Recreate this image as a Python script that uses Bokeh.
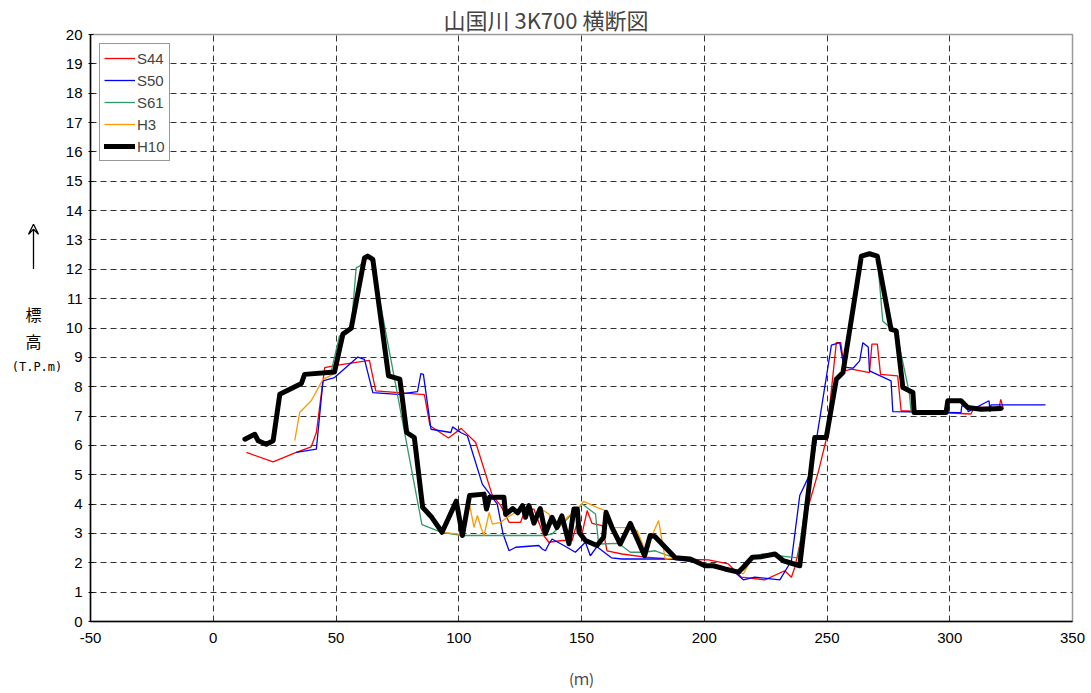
from bokeh.plotting import figure
from bokeh.models import Label, Arrow, VeeHead, Legend, FixedTicker, Range1d
from bokeh.layouts import row
from bokeh.embed import file_html
from bokeh.resources import INLINE

# ---- data ----
s44_x = [13.5, 24.4, 33.8, 39.9, 42, 45.4, 50.1, 63.6, 66.2, 86, 88.3, 95.8, 101, 106.9, 113.7, 117.1,
         120.5, 123.2, 125.2, 127.2, 130.6, 134.6, 136.7, 142.1, 146.2, 148, 150, 152.3, 154.3, 158.4,
         160.4, 166.5, 176, 186, 201.7, 209.8, 215.2, 224.7, 232.8, 235.5, 236.9, 242.3, 246.6, 249.7,
         253.8, 255.6, 257.2, 260, 267.3, 268.3, 270.5, 271.8, 278.8, 280.2, 308.6, 310, 320.1, 320.8, 321.9]
s44_y = [5.76, 5.44, 5.76, 5.95, 6.44, 8.65, 8.73, 8.9, 7.86, 7.73, 6.67, 6.25, 6.58, 6.1, 4.29, 3.95,
         3.38, 3.38, 3.38, 3.83, 3.83, 2.93, 2.7, 2.76, 2.76, 3.3, 2.9, 3.78, 3.34, 3.27,
         2.41, 2.3, 2.19, 2.13, 2.1, 1.96, 1.51, 1.42, 1.73, 1.51, 1.85, 3.89, 5.14, 6.21,
         9.5, 9.5, 8.54, 8.6, 8.48, 9.45, 9.45, 8.42, 8.37, 7.18, 7.07, 7.3, 7.29, 7.57, 7.23]

s50_x = [33.8, 42, 44.7, 49.4, 58.9, 61.6, 65, 75.1, 83.2, 84.6, 85.6, 88.7, 96.8, 97.5, 100.8, 103.5,
         109.6, 115.7, 118, 120.5, 123.2, 132.6, 134, 135.3, 136.7, 138, 142.8, 147.5, 151.6, 153.6,
         156.3, 162.2, 166.5, 186.8, 196.3, 212.5, 215.9, 220.6, 230.8, 235.5, 238.9, 243.7, 251.8,
         255.2, 256.9, 260.6, 263.3, 264.6, 266.8, 267.3, 276.1, 276.8, 304.6, 304.9, 307, 307.5, 316,
         316.4, 316.8, 339]
s50_y = [5.76, 5.87, 8.2, 8.31, 9.01, 8.93, 7.8, 7.74, 7.83, 8.45, 8.42, 6.55, 6.44, 6.63, 6.44, 6.33,
         4.68, 4.0, 3.0, 2.41, 2.53, 2.59, 2.47, 2.41, 2.64, 2.81, 2.59, 2.36, 2.7, 2.24,
         2.55, 2.17, 2.13, 2.13, 2.02, 1.68, 1.42, 1.51, 1.42, 2.07, 4.29, 5.14, 9.42,
         9.5, 8.67, 8.63, 8.88, 9.5, 9.35, 8.54, 8.2, 7.15, 7.12, 7.35, 7.35, 7.15, 7.52,
         7.15, 7.38, 7.38]

s61_x = [48, 51.4, 56.2, 58.2, 59.6, 62.9, 65, 85, 93, 101.5, 134, 138, 150.3, 155.7, 157, 165.2, 169.9,
         175.3, 180, 185.5, 194.3, 200.3, 208.4, 213.9, 219.6, 223.4, 238.2, 245, 249.7, 253.8, 256.5,
         264, 267.3, 270.5, 272.7, 276.5, 278.2, 283.5, 284.3, 298.5]
s61_y = [8.5, 9.73, 9.99, 12.05, 12.11, 12.45, 12.2, 3.3, 3.04, 2.93, 2.93, 2.98, 4.0, 3.66, 2.64, 2.66, 2.36,
         2.36, 2.41, 2.24, 2.13, 1.9, 1.79, 1.68, 2.19, 2.3, 2.17, 6.27, 6.27, 8.25, 8.48,
         12.45, 12.53, 12.45, 10.24, 9.95, 9.9, 7.8, 7.12, 7.12]

h3_x = [33.2, 35.2, 39.9, 44.7, 48.7, 52.8, 56.2, 61.0, 63.2, 65.5, 71.4, 76.0, 78.8, 81.9, 85.3, 89.0,
        93.2, 100.2, 104.5, 106.2, 107.6, 109, 110.3, 112.4, 113.7, 117.1, 119.8, 125.2, 128.6, 130.6,
        133.2, 136.7, 140.1, 144.2, 148.9, 150.9, 156.3, 159.7, 162.4, 169, 172.6, 176, 181.4, 184.1,
        188.2, 194.3, 200.3, 203.7, 208.4, 212.5, 215.9, 219.6, 223.4, 228.8, 232.2, 238.9, 245, 249.7,
        253.8, 256.5, 264, 267.3, 270.5, 276.1, 278.2, 280.9, 285]
h3_y = [6.16, 7.12, 7.52, 8.25, 8.42, 9.79, 9.99, 12.2, 12.4, 12.3, 8.37, 8.26, 6.44, 6.27, 3.89, 3.55,
        3.04, 2.98, 3.95, 3.21, 3.61, 3.21, 2.93, 3.72, 3.32, 3.38, 3.55, 3.83, 3.95, 3.5,
        3.85, 3.66, 3.15, 3.55, 3.89, 4.09, 3.89, 3.78, 3.21, 3.2, 3.1, 2.41, 3.44, 2.13,
        2.17, 2.13, 1.9, 1.9, 1.79, 1.73, 1.62, 2.19, 2.21, 2.3, 2.07, 1.9, 6.27, 6.27,
        8.25, 8.48, 12.4, 12.5, 12.4, 9.95, 9.9, 7.97, 7.8]

h10_x = [12.9, 16.9, 18.3, 21.6, 24.4, 27.1, 35.9, 37.2, 49.4, 52.8, 56.2, 61.6, 62.9, 65.0, 71.4, 76.0,
         78.8, 81.9, 85.3, 89.0, 93.2, 99.0, 101.5, 104.4, 110.3, 111.3, 112.5, 118.4, 119.1, 122, 124,
         126, 127.2, 128.6, 130.6, 133.2, 135.3, 138, 140, 142, 144.9, 146.9, 148.3, 149, 151.6, 156.3,
         159, 160, 162.4, 165.8, 169.9, 175.7, 178, 180, 183.4, 188.2, 194.3, 200.3, 203.7, 208.4,
         213.9, 215.9, 219.6, 223.4, 228.8, 232.2, 238.9, 245, 249.7, 253.8, 256.5, 264, 267.3, 270.5,
         276.1, 278.2, 280.9, 285, 285.5, 298.5, 299.2, 304.6, 307.3, 312.7, 320.8]
h10_y = [6.21, 6.38, 6.16, 6.04, 6.16, 7.74, 8.11, 8.42, 8.5, 9.79, 9.99, 12.39, 12.45, 12.34, 8.37, 8.26,
         6.44, 6.27, 3.89, 3.55, 3.04, 4.1, 2.93, 4.29, 4.34, 3.83, 4.23, 4.23, 3.65, 3.85, 3.7,
         3.95, 3.55, 3.95, 3.35, 3.85, 3.0, 3.55, 3.2, 3.6, 2.65, 3.83, 3.83, 3.04, 2.76, 2.59,
         2.87, 3.72, 3.21, 2.64, 3.34, 2.24, 2.93, 2.89, 2.59, 2.17, 2.13, 1.9, 1.9, 1.79,
         1.68, 1.85, 2.19, 2.21, 2.3, 2.07, 1.9, 6.27, 6.27, 8.25, 8.48, 12.45, 12.53, 12.45,
         9.95, 9.9, 7.97, 7.8, 7.12, 7.12, 7.52, 7.52, 7.29, 7.23, 7.26]

x_ticks = [-50, 0, 50, 100, 150, 200, 250, 300, 350]
y_ticks = list(range(0, 21))

title_text = "山国川 3K700 横断図"
x_label = "(ｍ)"
y_label_chars = ["標", "高"]
y_unit = "(T.P.m)"

JP = "Noto Sans CJK JP"
LAT = "Liberation Sans"

H = 692
LW = 62          # width of the side panel holding the vertical axis title
FT, FB = 33, 621  # frame top / bottom in page pixels

# ---- side panel with the y-axis title (its frame is aligned with the chart frame) ----
side = figure(width=LW, height=H, x_range=Range1d(0, LW), y_range=Range1d(H - FB, H - FT),
              output_backend="svg", toolbar_location=None, x_axis_type=None, y_axis_type=None,
              min_border_left=0, min_border_right=0, min_border_top=FT, min_border_bottom=H - FB)
side.outline_line_color = None
side.xgrid.visible = False
side.ygrid.visible = False
side.add_layout(Label(x=33, y=H - 313, text=y_label_chars[0], text_font=JP, text_font_size="16px",
                      text_align="center", text_baseline="middle", text_color="black"))
side.add_layout(Label(x=33, y=H - 340, text=y_label_chars[1], text_font=JP, text_font_size="16px",
                      text_align="center", text_baseline="middle", text_color="black"))
side.add_layout(Label(x=36.5, y=H - 366, text=y_unit, text_font="DejaVu Sans Mono", text_font_size="12px",
                      text_align="center", text_baseline="middle", text_color="black"))
side.add_layout(Arrow(x_start=33, y_start=H - 268, x_end=33, y_end=H - 223, line_width=1.3,
                      end=VeeHead(size=10, line_width=1.3, fill_alpha=0)))

# ---- main chart ----
p = figure(width=1090 - LW, height=H, x_range=(-50, 350), y_range=(0, 20),
           output_backend="svg", toolbar_location=None,
           min_border_left=87 - LW, min_border_right=18, min_border_top=FT, min_border_bottom=H - FB)

p.title.text = title_text
p.title.text_font = JP
p.title.text_font_size = "22px"
p.title.text_font_style = "normal"
p.title.align = "left"
p.title.offset = 440 - 87
p.title.standoff = 0

p.outline_line_color = "#9a9a9a"
p.outline_line_width = 1.5

for g in (p.xgrid, p.ygrid):
    g.grid_line_color = "#333333"
    g.grid_line_dash = "6 4"
    g.grid_line_width = 1
p.xgrid.ticker = FixedTicker(ticks=x_ticks)
p.ygrid.ticker = FixedTicker(ticks=y_ticks)

p.xaxis.ticker = FixedTicker(ticks=x_ticks)
p.yaxis.ticker = FixedTicker(ticks=y_ticks)
p.xaxis.major_label_overrides = {-50: "-50"}
for ax in (p.xaxis, p.yaxis):
    ax.axis_line_color = "black"
    ax.axis_line_width = 1.5
    ax.major_label_text_font = LAT
    ax.major_label_text_font_size = "15px"
    ax.major_label_text_color = "black"
    ax.minor_tick_line_color = None
    ax.major_tick_line_color = "black"
p.xaxis.major_tick_in = 0
p.xaxis.major_tick_out = 0
p.xaxis.major_label_standoff = 11
p.yaxis.major_tick_in = 3
p.yaxis.major_tick_out = 2
p.yaxis.major_label_standoff = 6

p.xaxis.axis_label = x_label
p.xaxis.axis_label_text_font = JP
p.xaxis.axis_label_text_font_size = "15px"
p.xaxis.axis_label_text_font_style = "normal"
p.xaxis.axis_label_standoff = 22

r44 = p.line(s44_x, s44_y, line_color="#ff0000", line_width=1.3)
r50 = p.line(s50_x, s50_y, line_color="#0000ff", line_width=1.3)
r61 = p.line(s61_x, s61_y, line_color="#339966", line_width=1.3)
rh3 = p.line(h3_x, h3_y, line_color="#ff9900", line_width=1.3)
rh10 = p.line(h10_x, h10_y, line_color="black", line_width=5, line_join="round", line_cap="round")

legend = Legend(items=[("S44", [r44]), ("S50", [r50]), ("S61", [r61]), ("H3", [rh3]), ("H10", [rh10])],
                location="top_left")
legend.margin = 9
legend.padding = 4
legend.spacing = 2
legend.glyph_width = 31
legend.glyph_height = 20
legend.label_height = 20
legend.label_standoff = 2
legend.label_text_font = LAT
legend.label_text_font_size = "15px"
legend.border_line_color = "#333333"
legend.border_line_width = 1
legend.background_fill_alpha = 1
p.add_layout(legend)

layout = row(side, p)
open("out.html", "w").write(file_html(layout, INLINE))
